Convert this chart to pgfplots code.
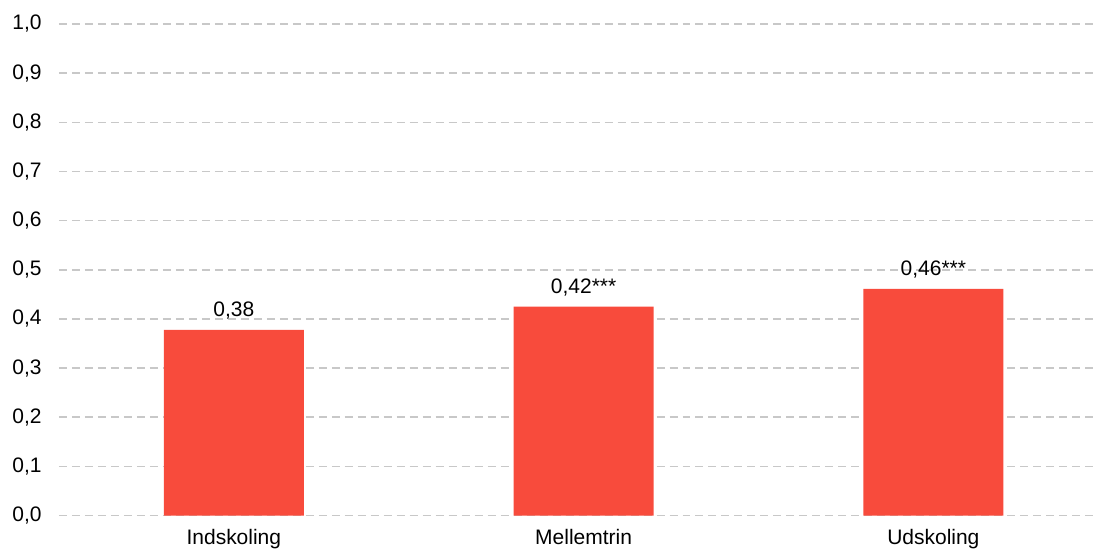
\documentclass[border=0pt]{standalone}
\usepackage{fontspec}
\setmainfont{Liberation Sans}
\usepackage{pgfplots}
\pgfplotsset{compat=1.18}

\definecolor{barred}{HTML}{F84B3C}
\definecolor{gridgray}{HTML}{C8C8C8}

\begin{document}
\fontsize{10.5pt}{12.6pt}\selectfont
\begin{tikzpicture}
\begin{axis}[
  at={(0,0)}, anchor=south west,
  scale only axis,
  width=517.5pt, height=246pt,
  ymin=0, ymax=1,
  xmin=-0.5, xmax=2.457,
  ytick={0,0.1,...,1.0},
  xtick={0,1,2},
  xticklabels={Indskoling,Mellemtrin,Udskoling},
  axis line style={draw=none},
  major tick length=0pt,
  ymajorgrids,
  major grid style={gridgray, line width=0.8pt, dash pattern=on 4pt off 2.5pt},
  /pgf/number format/assume math mode=true,
  /pgf/number format/.cd, use comma, fixed, fixed zerofill, precision=1,
  /pgfplots/.cd,
  yticklabel style={font=\fontsize{10.5pt}{12.6pt}\selectfont, xshift=-5pt},
  xticklabel style={font=\fontsize{10.5pt}{12.6pt}\selectfont, yshift=-3pt},
  ybar, bar width=0.4,
  point meta=explicit symbolic,
  nodes near coords,
  every node near coord/.append style={font=\fontsize{10.5pt}{12.6pt}\selectfont, black, yshift=1.5pt},
]
\addplot[fill=barred, draw=none] coordinates {
  (0,0.378) [0,38]
  (1,0.425) [0,42***]
  (2,0.461) [0,46***]
};
\end{axis}
\path (current axis.south west) ++(-29.5pt,-17.5pt) (current axis.north east) ++(0,12pt);
\end{tikzpicture}
\end{document}
